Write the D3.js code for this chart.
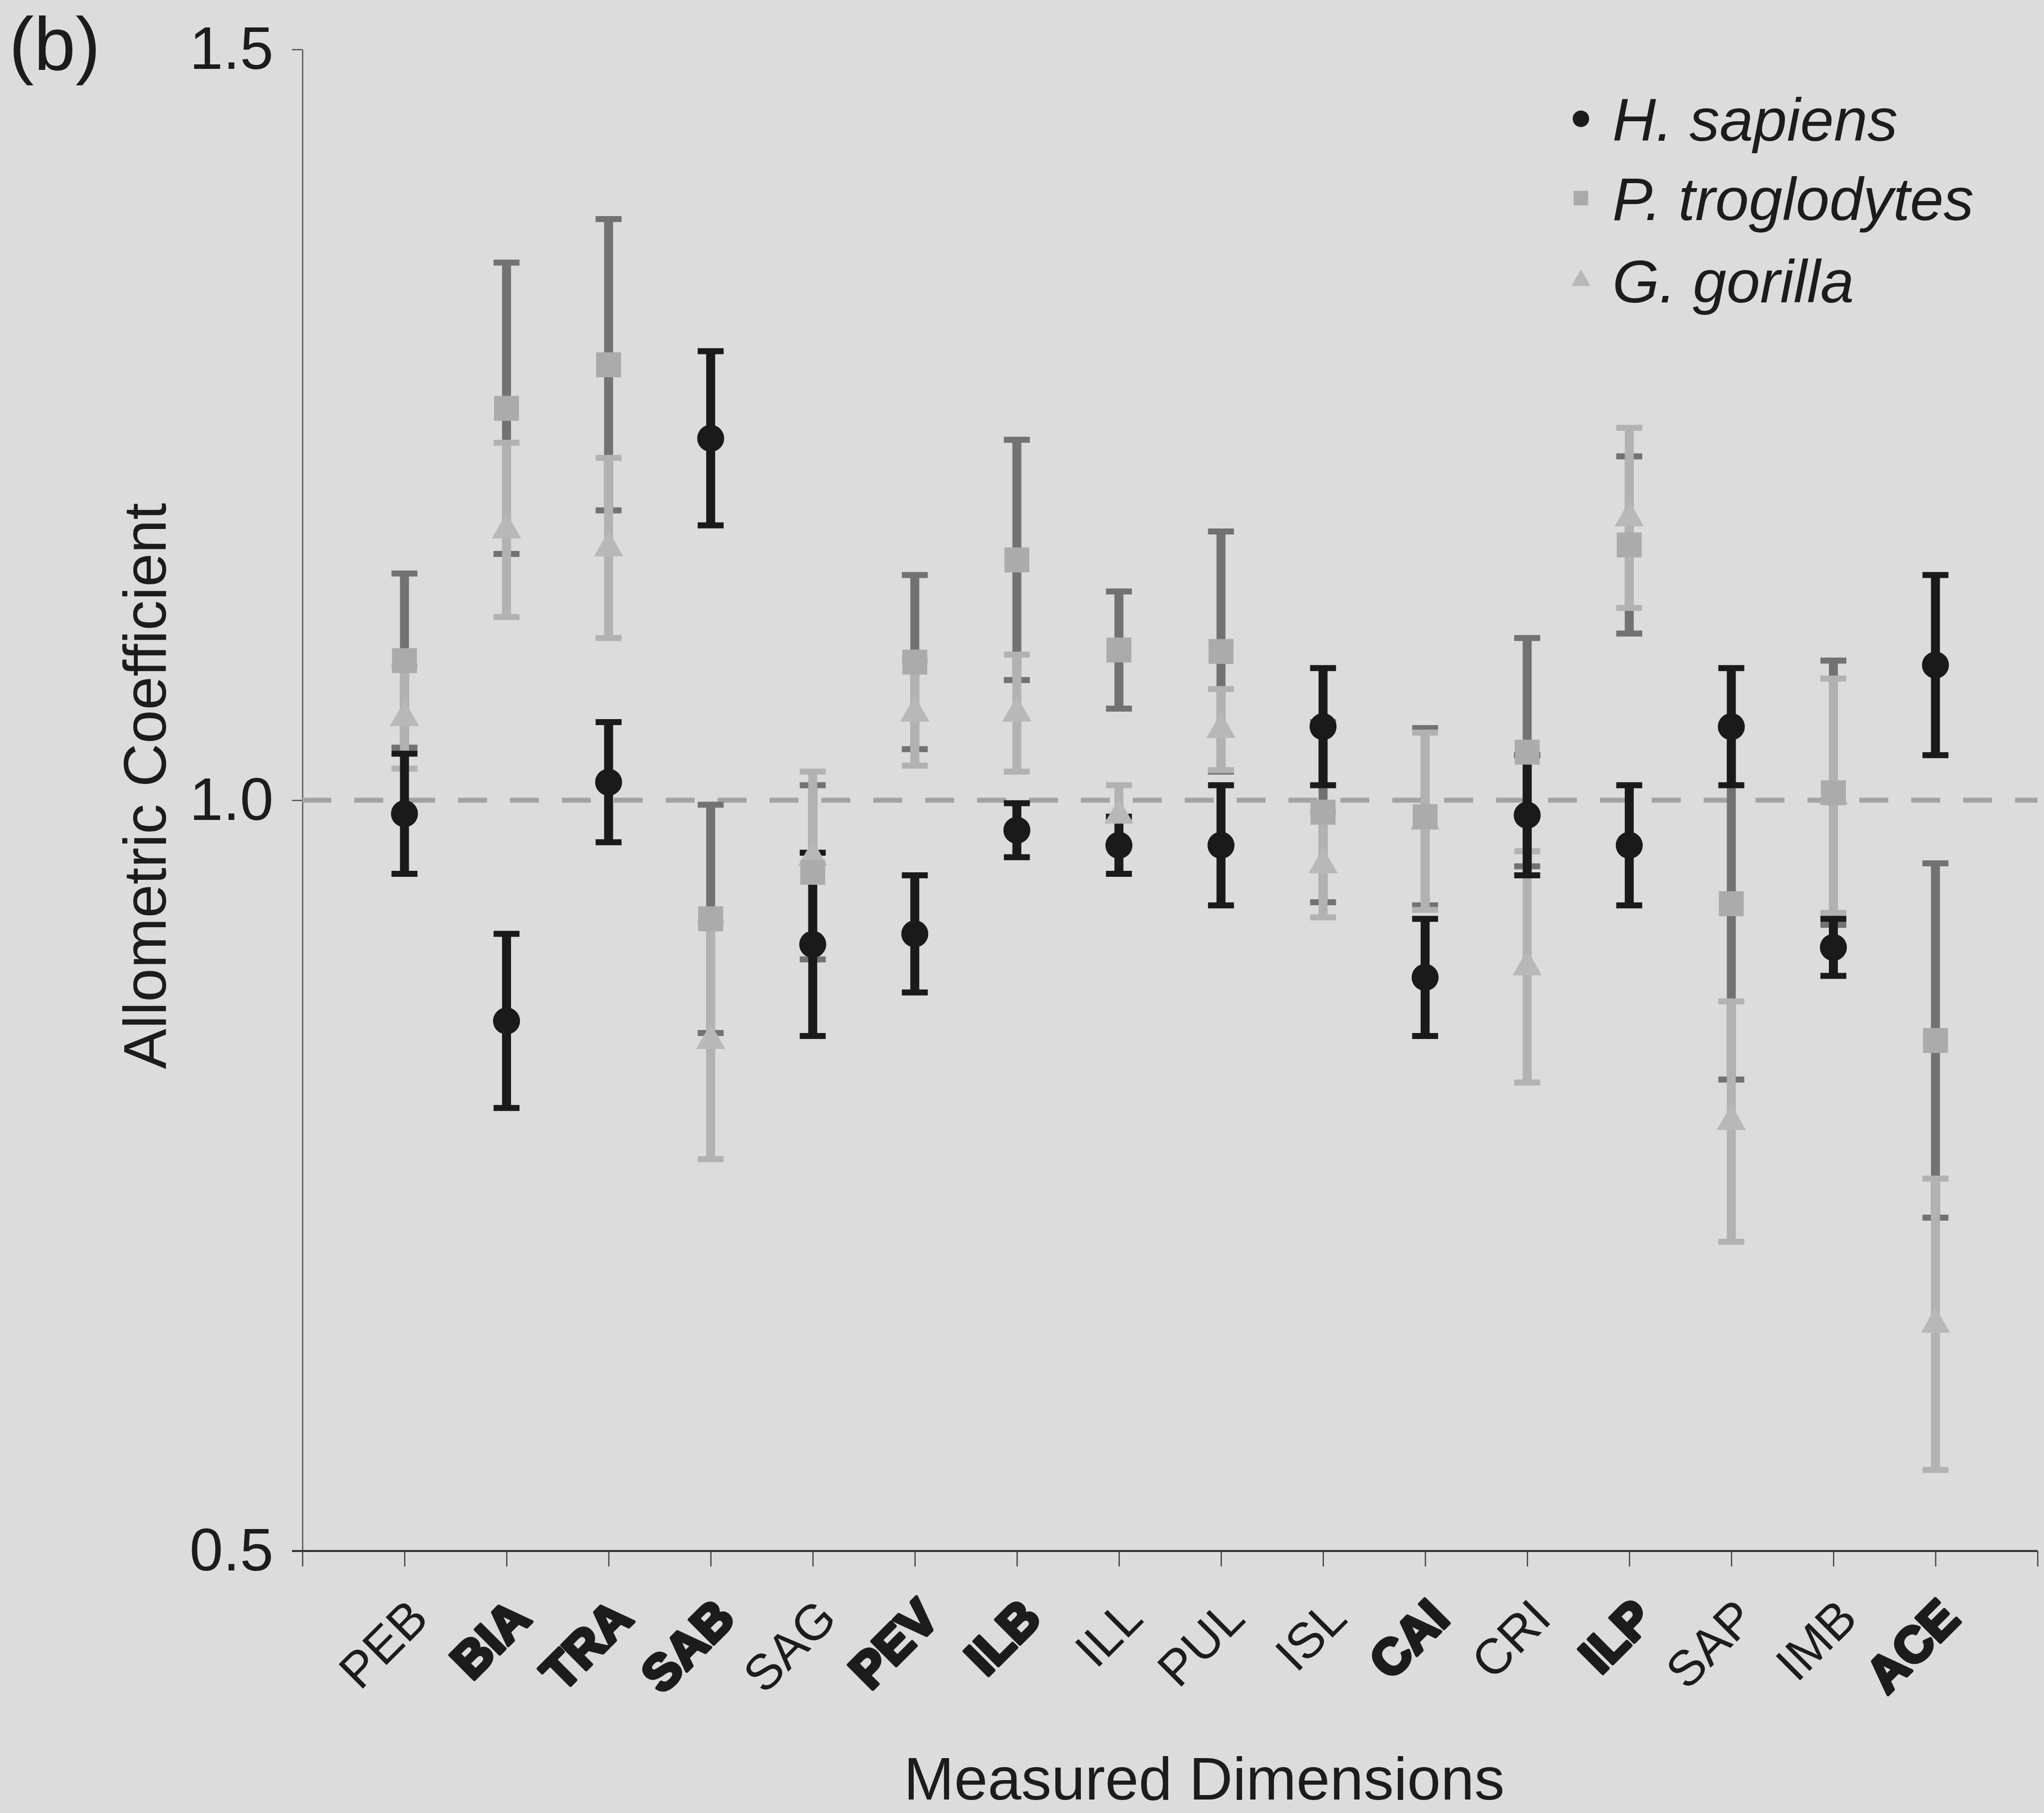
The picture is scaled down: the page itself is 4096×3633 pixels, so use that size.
<!DOCTYPE html>
<html>
<head>
<meta charset="utf-8">
<script src="https://cdn.jsdelivr.net/npm/d3@7"></script>
<style>
  body { margin: 0; background: #dcdcdc; }
  svg { display: block; }
</style>
</head>
<body>
<svg></svg>
<script>
// ================= DATA =================
const categories = ["PEB", "BIA", "TRA", "SAB", "SAG", "PEV", "ILB", "ILL",
                    "PUL", "ISL", "CAI", "CRI", "ILP", "SAP", "IMB", "ACE"];
const boldCategories = ["BIA", "TRA", "SAB", "PEV", "ILB", "CAI", "ILP", "ACE"];
const yTicks = [0.5, 1.0, 1.5];
const seriesNames = ["H. sapiens", "P. troglodytes", "G. gorilla"];

// H. sapiens
const sapiensMean = [0.991, 0.853, 1.012, 1.241, 0.904, 0.911, 0.980, 0.970,
                     0.970, 1.049, 0.882, 0.990, 0.970, 1.049, 0.902, 1.090];
const sapiensErr  = [0.040, 0.058, 0.040, 0.058, 0.061, 0.039, 0.018, 0.019,
                     0.040, 0.039, 0.039, 0.040, 0.040, 0.039, 0.019, 0.060];
// P. troglodytes
const troglodytesMean = [1.093, 1.261, 1.290, 0.921, 0.952, 1.092, 1.160, 1.100,
                         1.099, 0.992, 0.989, 1.032, 1.170, 0.931, 1.005, 0.840];
const troglodytesErr  = [0.058, 0.097, 0.097, 0.076, 0.058, 0.058, 0.080, 0.039,
                         0.080, 0.060, 0.059, 0.076, 0.059, 0.117, 0.088, 0.118];
// G. gorilla
const gorillaMean = [1.055, 1.180, 1.168, 0.840, 0.962, 1.058, 1.058, 0.990,
                     1.047, 0.957, 0.986, 0.889, 1.188, 0.786, 1.003, 0.651];
const gorillaErr  = [0.034, 0.058, 0.060, 0.079, 0.057, 0.035, 0.039, 0.020,
                     0.027, 0.035, 0.059, 0.077, 0.060, 0.080, 0.078, 0.097];

// ================= CANVAS =================
const width = 4096, height = 3633;
const font = "'Liberation Sans', Arial, sans-serif";

const svg = d3.select("svg")
    .attr("width", width)
    .attr("height", height)
    .style("font-family", font);

svg.append("rect").attr("width", width).attr("height", height).attr("fill", "#dcdcdc");

const xs = d3.scaleLinear().domain([0, categories.length + 1]).range([606, 4083]);
const ys = d3.scaleLinear().domain([0.5, 1.5]).range([3108, 99]);

// ================= AXES =================
const yAxis = svg.append("g")
    .attr("transform", "translate(" + xs(0) + ",0)")
    .call(d3.axisLeft(ys).tickValues(yTicks).tickFormat(d3.format(".1f"))
        .tickSize(21).tickSizeOuter(0).tickPadding(37));
yAxis.select(".domain").attr("stroke", "#555").attr("stroke-width", 2.5);
yAxis.selectAll(".tick line").attr("stroke", "#555").attr("stroke-width", 2.5);
yAxis.selectAll("text").attr("font-size", 121).attr("fill", "#1c1c1c")
    .attr("font-family", font);

const xAxis = svg.append("g")
    .attr("transform", "translate(0," + ys(0.5) + ")")
    .call(d3.axisBottom(xs).tickValues(d3.range(0, categories.length + 2))
        .tickFormat(i => categories[i - 1] || "")
        .tickSize(31).tickSizeOuter(0));
xAxis.select(".domain").attr("stroke", "#333").attr("stroke-width", 4)
    .attr("d", "M" + (xs(0) - 21) + ",0H" + xs(categories.length + 1));
xAxis.selectAll(".tick line").attr("stroke", "#444").attr("stroke-width", 2.5);
xAxis.selectAll("text")
    .attr("x", 0).attr("y", 0).attr("dy", 0)
    .attr("text-anchor", "end")
    .attr("transform", "translate(52,140) rotate(-45)")
    .attr("font-family", font)
    .attr("font-size", 100)
    .attr("fill", "#1c1c1c")
    .attr("font-weight", d => boldCategories.includes(categories[d - 1]) ? 700 : 400)
    .attr("stroke", d => boldCategories.includes(categories[d - 1]) ? "#1c1c1c" : "none")
    .attr("stroke-width", 7)
    .attr("stroke-linejoin", "round");

// reference line at 1.0
svg.append("line")
    .attr("x1", xs(0)).attr("x2", xs(categories.length + 1))
    .attr("y1", ys(1)).attr("y2", ys(1))
    .attr("stroke", "#a3a3a3").attr("stroke-width", 10)
    .attr("stroke-dasharray", "58,46");

// ================= ERROR BARS & MARKERS =================
const series = [
  { mean: troglodytesMean, err: troglodytesErr, bar: "#727272", fill: "#ababab", shape: d3.symbolSquare, size: 2500 },
  { mean: gorillaMean, err: gorillaErr, bar: "#b2b2b2", fill: "#b8b8b8", shape: d3.symbolTriangle, size: 1500 },
  { mean: sapiensMean, err: sapiensErr, bar: "#1a1a1a", fill: "#1a1a1a", shape: d3.symbolCircle, size: 2300 }
];

const capW = 26;
series.forEach(s => {
  const g = svg.append("g");
  const rows = categories.map((c, i) => ({ i: i + 1, m: s.mean[i], e: s.err[i] }));
  g.selectAll(".bar").data(rows).enter().append("line")
      .attr("x1", d => xs(d.i)).attr("x2", d => xs(d.i))
      .attr("y1", d => ys(d.m + d.e)).attr("y2", d => ys(d.m - d.e))
      .attr("stroke", s.bar).attr("stroke-width", 18);
  [1, -1].forEach(sign => {
    g.selectAll(".cap" + sign).data(rows).enter().append("line")
        .attr("x1", d => xs(d.i) - capW).attr("x2", d => xs(d.i) + capW)
        .attr("y1", d => ys(d.m + sign * d.e)).attr("y2", d => ys(d.m + sign * d.e))
        .attr("stroke", s.bar).attr("stroke-width", 12);
  });
  s.rows = rows;
});

// markers: gorilla first, then troglodytes, then sapiens on top
[series[1], series[0], series[2]].forEach(s => {
  svg.append("g").selectAll("path").data(s.rows).enter().append("path")
      .attr("d", d3.symbol().type(s.shape).size(s.size))
      .attr("transform", d => "translate(" + xs(d.i) + "," + ys(d.m) + ")")
      .attr("fill", s.fill);
});

// ================= LEGEND =================
const legend = svg.append("g");
const legendShapes = [series[2], series[0], series[1]];
const legendY = [238, 397, 562];
const legendSizes = [850, 850, 650];
seriesNames.forEach((name, k) => {
  legend.append("path")
      .attr("d", d3.symbol().type(legendShapes[k].shape).size(legendSizes[k]))
      .attr("transform", "translate(3168," + legendY[k] + ")")
      .attr("fill", legendShapes[k].fill);
  legend.append("text")
      .attr("x", 3231).attr("y", legendY[k]).attr("dy", "0.36em")
      .attr("font-size", 121).attr("font-style", "italic")
      .attr("fill", "#1c1c1c")
      .text(name);
});

// ================= TITLES =================
svg.append("text")
    .attr("x", 18).attr("y", 140)
    .attr("font-size", 150).attr("fill", "#1c1c1c")
    .text("(b)");

svg.append("text")
    .attr("transform", "translate(332,1575) rotate(-90)")
    .attr("text-anchor", "middle")
    .attr("font-size", 121).attr("fill", "#1c1c1c")
    .text("Allometric Coefficient");

svg.append("text")
    .attr("x", 2413).attr("y", 3606)
    .attr("text-anchor", "middle")
    .attr("font-size", 121).attr("fill", "#1c1c1c")
    .text("Measured Dimensions");
</script>
</body>
</html>
